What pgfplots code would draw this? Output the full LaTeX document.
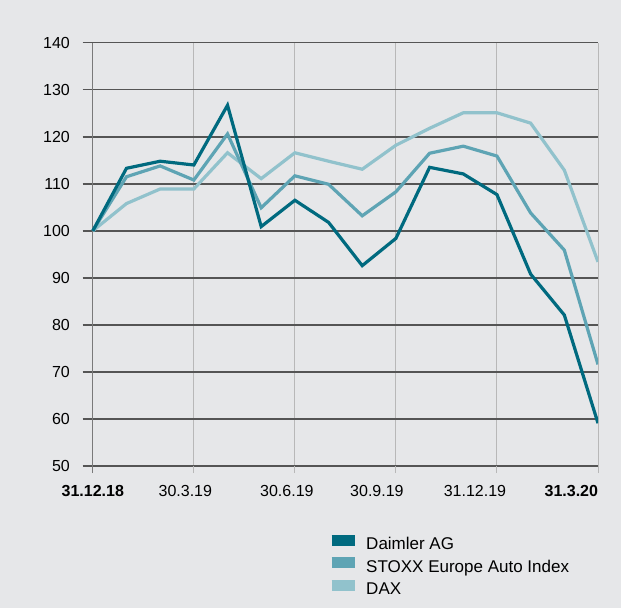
\documentclass[border=0pt]{standalone}
\usepackage{pgfplots}
\pgfplotsset{compat=1.18}
\usepackage{fontspec}
\setmainfont{Liberation Sans}
\definecolor{bg}{HTML}{E6E7E9}
\definecolor{daim}{HTML}{006A7F}
\definecolor{stoxx}{HTML}{5EA4B4}
\definecolor{dax}{HTML}{91C2CC}
\definecolor{hgrid}{HTML}{555555}
\definecolor{vgrid}{HTML}{B8B8B8}
\definecolor{vgriddark}{HTML}{7A7A7A}
\begin{document}
\begin{tikzpicture}[font=\fontsize{16}{19}\selectfont]
\fill[bg] (0,0) rectangle (621pt,608pt);
\begin{axis}[
  at={(82.7pt,142pt)}, anchor=south west,
  scale only axis, width=515.3pt, height=423.3pt,
  xmin=-0.3, xmax=15, ymin=50, ymax=140,
  axis line style={draw=none},
  ytick={50,60,...,140},
  xtick={3,6,9,12,15},
  xticklabels={\hspace*{-17pt}30.3.19,\hspace*{-16pt}30.6.19,\hspace*{-38pt}30.9.19,\hspace*{-44pt}31.12.19,\makebox[0pt][r]{\textbf{31.3.20}}},
  extra x ticks={0},
  extra x tick labels={\textbf{31.12.18}},
  extra x tick style={x grid style={color=vgriddark, line width=1pt}, xtick style={color=vgriddark, line width=1pt}},
  xmajorgrids, ymajorgrids,
  x grid style={color=vgrid, line width=1pt},
  y grid style={color=hgrid, line width=1.5pt},
  tick align=outside, major tick length=7pt,
  xtick pos=bottom, ytick pos=left,
  xtick style={color=vgrid, line width=1pt},
  ytick style={draw=none},
  /pgf/number format/assume math mode=true,
  yticklabel style={anchor=east, inner sep=0pt, xshift=-5.7pt},
  xticklabel style={anchor=north, inner sep=0pt, yshift=-12pt},
  reverse legend,
  legend cell align=left,
  legend style={at={(axis description cs:0.4722,-0.162)}, anchor=north west, draw=none, fill=none, inner sep=0pt,
    row sep=3.5pt, column sep=6pt, font=\fontsize{17}{20}\selectfont, nodes={inner sep=0pt, text height=12pt, text depth=4pt}},
  legend image code/.code={\draw[line width=11pt] (0pt,5.5pt) -- (23pt,5.5pt);},
  every axis plot/.append style={line width=3.2pt},
]
\addplot[color=dax] coordinates {(0,100) (1,105.8) (2,108.9) (3,108.9) (4,116.6) (5,111.1) (6,116.6) (7,114.8) (8,113.1) (9,118.2) (10,121.8) (11,125.1) (12,125.1) (13,122.9) (14,112.9) (15,93.4)};
\addlegendentry{DAX}
\addplot[color=stoxx] coordinates {(0,100) (1,111.5) (2,113.8) (3,110.8) (4,120.6) (5,104.9) (6,111.7) (7,109.9) (8,103.2) (9,108.3) (10,116.5) (11,118.0) (12,115.9) (13,103.8) (14,95.9) (15,71.6)};
\addlegendentry{STOXX Europe Auto Index}
\addplot[color=daim] coordinates {(0,100) (1,113.3) (2,114.8) (3,114.0) (4,126.7) (5,100.9) (6,106.5) (7,101.8) (8,92.6) (9,98.4) (10,113.5) (11,112.1) (12,107.7) (13,90.8) (14,82.1) (15,59.1)};
\addlegendentry{Daimler AG}
\end{axis}
\end{tikzpicture}
\end{document}
